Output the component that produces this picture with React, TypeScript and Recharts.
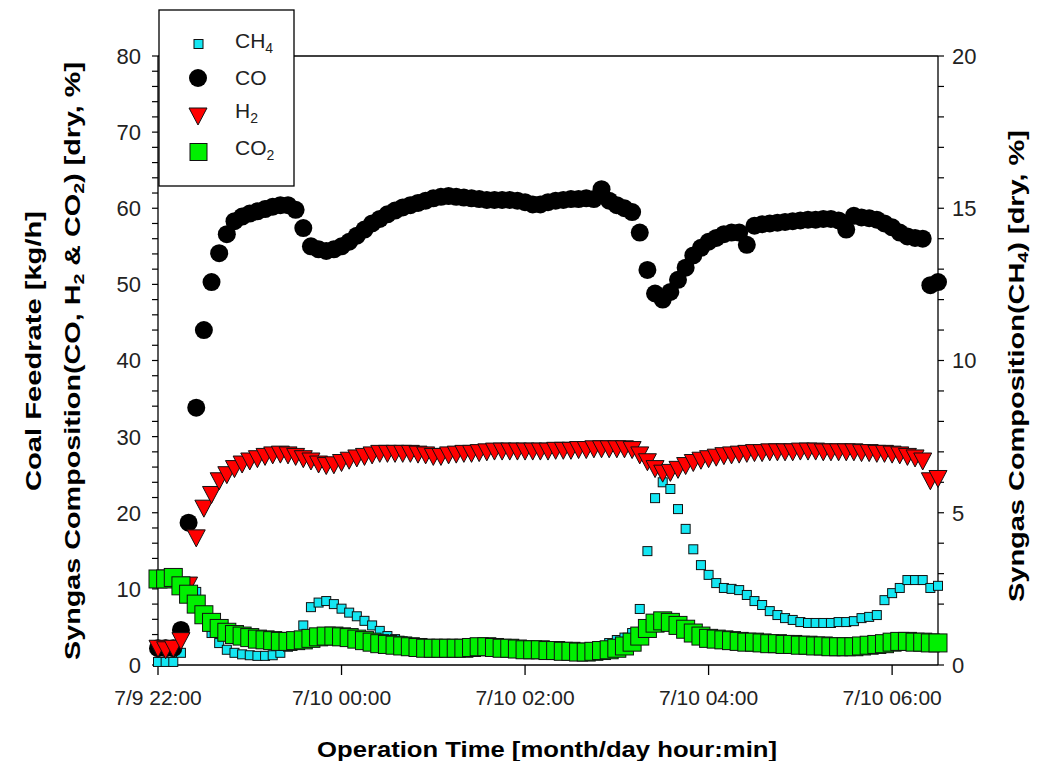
import React from 'react';
import { ScatterChart, Scatter, XAxis, YAxis, ReferenceLine } from 'recharts';

const FONT = '"Liberation Sans", Arial, Helvetica, sans-serif';

// minutes after 7/9 22:00, sampled every 5 min
const timeMin = [
  0, 5, 10, 15, 20, 25, 30, 35, 40, 45, 50, 55, 60, 65, 70, 75, 80, 85, 90, 95,
  100, 105, 110, 115, 120, 125, 130, 135, 140, 145, 150, 155, 160, 165, 170, 175, 180, 185, 190, 195,
  200, 205, 210, 215, 220, 225, 230, 235, 240, 245, 250, 255, 260, 265, 270, 275, 280, 285, 290, 295,
  300, 305, 310, 315, 320, 325, 330, 335, 340, 345, 350, 355, 360, 365, 370, 375, 380, 385, 390, 395,
  400, 405, 410, 415, 420, 425, 430, 435, 440, 445, 450, 455, 460, 465, 470, 475, 480, 485, 490, 495,
  500, 505, 510,
];

const xTickValues = [0, 120, 240, 360, 480];
const xTickLabels = ['7/9 22:00', '7/10 00:00', '7/10 02:00', '7/10 04:00', '7/10 06:00'];
const leftTicks = [0, 2, 4, 6, 8, 10, 12, 14, 16, 18, 20, 22, 24, 26, 28, 30, 32, 34, 36, 38, 40, 42, 44, 46, 48, 50, 52, 54, 56, 58, 60, 62, 64, 66, 68, 70, 72, 74, 76, 78, 80];
const leftLabels = [0, 10, 20, 30, 40, 50, 60, 70, 80];
const rightTicks = [0, 1, 2, 3, 4, 5, 6, 7, 8, 9, 10, 11, 12, 13, 14, 15, 16, 17, 18, 19, 20];
const rightLabels = [0, 5, 10, 15, 20];

// CH4 [dry, %] (right axis)
const ch4 = [
  0.1, 0.1, 0.1, 0.4, 2.6, 2.4, 1.6, 1.05, 0.72, 0.5, 0.4, 0.35, 0.32, 0.3, 0.3, 0.32, 0.4, 0.6, 0.9, 1.3,
  1.9, 2.05, 2.1, 2.0, 1.85, 1.72, 1.6, 1.45, 1.3, 1.12, 0.95, 0.85, 0.78, 0.72, 0.68, 0.65, 0.62, 0.6, 0.6, 0.6,
  0.62, 0.65, 0.65, 0.62, 0.6, 0.58, 0.56, 0.55, 0.54, 0.52, 0.5, 0.5, 0.5, 0.48, 0.48, 0.48, 0.5, 0.55, 0.62, 0.72,
  0.82, 0.9, 1.05, 1.84, 3.74, 5.48, 6.0, 5.78, 5.12, 4.47, 3.8, 3.28, 2.96, 2.69, 2.53, 2.5, 2.46, 2.3, 2.1, 1.97,
  1.77, 1.64, 1.54, 1.48, 1.41, 1.38, 1.38, 1.38, 1.38, 1.41, 1.41, 1.44, 1.54, 1.58, 1.64, 2.13, 2.36, 2.53, 2.79, 2.79,
  2.79, 2.53, 2.6,
];

// CO [dry, %]
const co = [
  2.2, 2.2, 2.2, 4.6, 18.7, 33.8, 44.0, 50.3, 54.1, 56.6, 58.3, 58.9, 59.3, 59.6, 59.9, 60.2, 60.4, 60.4, 59.8, 57.4,
  55.0, 54.6, 54.4, 54.6, 55.0, 55.6, 56.4, 57.2, 58.0, 58.6, 59.2, 59.7, 60.1, 60.4, 60.7, 61.0, 61.3, 61.5, 61.6, 61.5,
  61.4, 61.3, 61.2, 61.1, 61.1, 61.1, 61.1, 61.0, 60.8, 60.5, 60.5, 60.8, 61.0, 61.1, 61.2, 61.2, 61.3, 61.2, 62.5, 61.0,
  60.4, 60.0, 59.5, 56.8, 51.9, 48.8, 48.0, 49.0, 50.6, 52.2, 53.8, 54.8, 55.6, 56.1, 56.6, 56.8, 56.8, 55.2, 57.7, 57.9,
  58.0, 58.1, 58.2, 58.3, 58.4, 58.5, 58.5, 58.6, 58.6, 58.4, 57.2, 59.0, 58.8, 58.7, 58.5, 58.0, 57.5, 56.8, 56.3, 56.1,
  56.0, 49.9, 50.3,
];

// H2 [dry, %]
const h2 = [
  2.2, 2.0, 2.2, 3.2, 10.5, 16.7, 20.6, 22.4, 24.2, 25.0, 25.8, 26.4, 26.8, 27.1, 27.4, 27.6, 27.7, 27.6, 27.4, 27.1,
  26.8, 26.4, 26.2, 26.3, 26.6, 26.9, 27.2, 27.4, 27.6, 27.8, 27.8, 27.8, 27.8, 27.8, 27.7, 27.6, 27.4, 27.4, 27.6, 27.7,
  27.8, 27.8, 27.9, 28.0, 28.1, 28.1, 28.1, 28.1, 28.1, 28.1, 28.1, 28.1, 28.2, 28.2, 28.2, 28.3, 28.3, 28.4, 28.4, 28.4,
  28.4, 28.4, 28.3, 27.6, 26.7, 25.8, 25.2, 25.3, 25.7, 26.2, 26.6, 26.9, 27.1, 27.3, 27.5, 27.6, 27.7, 27.8, 27.9, 27.9,
  28.0, 28.0, 28.0, 28.0, 28.1, 28.1, 28.1, 28.0, 28.0, 28.0, 28.0, 28.0, 27.9, 27.9, 27.8, 27.8, 27.7, 27.6, 27.4, 27.2,
  26.8, 24.2, 24.5,
];

// CO2 [dry, %]
const co2 = [
  11.3, 11.3, 11.5, 10.4, 9.3, 8.0, 6.6, 5.6, 4.8, 4.3, 4.0, 3.8, 3.6, 3.4, 3.3, 3.2, 3.1, 3.1, 3.2, 3.3,
  3.5, 3.7, 3.8, 3.8, 3.7, 3.6, 3.4, 3.2, 3.0, 2.8, 2.7, 2.6, 2.5, 2.4, 2.3, 2.2, 2.2, 2.2, 2.2, 2.2,
  2.2, 2.3, 2.4, 2.4, 2.3, 2.2, 2.2, 2.1, 2.0, 2.0, 2.0, 1.9, 1.9, 1.8, 1.8, 1.7, 1.7, 1.8, 1.9, 2.0,
  2.2, 2.5, 3.0, 3.8, 4.8, 5.5, 5.8, 5.6, 5.2, 4.7, 4.2, 3.8, 3.5, 3.4, 3.3, 3.2, 3.1, 3.0, 3.0, 2.9,
  2.8, 2.8, 2.7, 2.7, 2.6, 2.6, 2.5, 2.5, 2.4, 2.4, 2.4, 2.4, 2.5, 2.6, 2.7, 2.8, 3.0, 3.1, 3.1, 3.0,
  3.0, 2.9, 2.9,
];

const toPoints = (vals: number[]) => vals.map((v, i) => ({ t: timeMin[i], v }));
const ch4Data = toPoints(ch4);
const coData = toPoints(co);
const h2Data = toPoints(h2);
const co2Data = toPoints(co2);

const CH4_FILL = '#14e6f2';
const CO_FILL = '#000000';
const H2_FILL = '#ff0000';
const CO2_FILL = '#00f000';

const SmallSquare = (p: any) => (
  <rect x={p.cx - 4.5} y={p.cy - 4.5} width={9} height={9} fill={CH4_FILL} stroke="#111" strokeWidth={1} />
);
const Circle = (p: any) => <circle cx={p.cx} cy={p.cy} r={9} fill={CO_FILL} />;
const Triangle = (p: any) => (
  <polygon
    points={`${p.cx - 9},${p.cy - 8} ${p.cx + 9},${p.cy - 8} ${p.cx},${p.cy + 9}`}
    fill={H2_FILL}
    stroke="#111"
    strokeWidth={1}
  />
);
const BigSquare = (p: any) => (
  <rect x={p.cx - 9} y={p.cy - 9} width={18} height={18} fill={CO2_FILL} stroke="#111" strokeWidth={1} />
);

const LeftTick = (props: any) => {
  const { x, y, payload } = props;
  if (!leftLabels.includes(payload.value)) return <g />;
  return (
    <text x={x} y={y} dy="0.36em" textAnchor="end" fontSize={22} fontFamily={FONT} fill="#222">
      {payload.value}
    </text>
  );
};

const RightTick = (props: any) => {
  const { x, y, payload } = props;
  if (!rightLabels.includes(payload.value)) return <g />;
  return (
    <text x={x} y={y} dy="0.36em" textAnchor="start" fontSize={22} fontFamily={FONT} fill="#222">
      {payload.value}
    </text>
  );
};

const XTick = (props: any) => {
  const { x, y, payload } = props;
  const idx = xTickValues.indexOf(payload.value);
  return (
    <text x={x} y={y} dy="0.71em" textAnchor="middle" fontSize={21} fontFamily={FONT} fill="#222">
      {idx >= 0 ? xTickLabels[idx] : ''}
    </text>
  );
};

const W = 1031;
const H = 753;

export default function App() {
  return (
    <div style={{ position: 'relative', width: W, height: H }}>
      <ScatterChart width={W} height={H} margin={{ top: 48, right: 41, bottom: 46, left: 90 }}>
        <XAxis
          type="number"
          dataKey="t"
          domain={[0, 510]}
          ticks={xTickValues}
          interval={0}
          tick={<XTick />}
          tickSize={10}
          tickMargin={15}
          height={50}
          stroke="#000"
          axisLine={{ stroke: '#000', strokeWidth: 1.3 }}
          tickLine={{ stroke: '#000', strokeWidth: 1.3 }}
        />
        <YAxis
          yAxisId="L"
          type="number"
          dataKey="v"
          orientation="left"
          domain={[0, 80]}
          ticks={leftTicks}
          interval={0}
          tick={<LeftTick />}
          tickSize={6}
          tickMargin={11}
          width={60}
          axisLine={{ stroke: '#000', strokeWidth: 1.3 }}
          tickLine={{ stroke: '#000', strokeWidth: 1.2 }}
        />
        <YAxis
          yAxisId="R"
          type="number"
          dataKey="v"
          orientation="right"
          domain={[0, 20]}
          ticks={rightTicks}
          interval={0}
          tick={<RightTick />}
          tickSize={6}
          tickMargin={8}
          width={60}
          axisLine={{ stroke: '#000', strokeWidth: 1.3 }}
          tickLine={{ stroke: '#000', strokeWidth: 1.2 }}
        />
        <ReferenceLine yAxisId="L" y={80} stroke="#000" strokeWidth={1.3} />
        <Scatter name="CH4" data={ch4Data} yAxisId="R" shape={SmallSquare} isAnimationActive={false} />
        <Scatter name="CO" data={coData} yAxisId="L" shape={Circle} isAnimationActive={false} />
        <Scatter name="H2" data={h2Data} yAxisId="L" shape={Triangle} isAnimationActive={false} />
        <Scatter name="CO2" data={co2Data} yAxisId="L" shape={BigSquare} isAnimationActive={false} />
      </ScatterChart>
      <svg
        width={W}
        height={H}
        style={{ position: 'absolute', left: 0, top: 0, pointerEvents: 'none', overflow: 'visible' }}
        fontFamily={FONT}
      >
        {/* Legend */}
        <rect x={151} y={2} width={135} height={176} fill="#fff" stroke="#000" strokeWidth={1.3} />
        <rect x={186} y={31.5} width={9} height={9} fill={CH4_FILL} stroke="#111" strokeWidth={1} />
        <circle cx={190} cy={70} r={9} fill={CO_FILL} />
        <polygon points="181,100 199,100 190,117" fill={H2_FILL} stroke="#111" strokeWidth={1} />
        <rect x={182} y={135.5} width={17} height={17} fill={CO2_FILL} stroke="#111" strokeWidth={1} />
        <text x={227} y={40} fontSize={21} fill="#222">
          CH<tspan fontSize={14} dy={5}>4</tspan>
        </text>
        <text x={227} y={77} fontSize={21} fill="#222">CO</text>
        <text x={227} y={110} fontSize={21} fill="#222">
          H<tspan fontSize={14} dy={5}>2</tspan>
        </text>
        <text x={227} y={147} fontSize={21} fill="#222">
          CO<tspan fontSize={14} dy={5}>2</tspan>
        </text>

        {/* X axis title */}
        <text
          x={539}
          y={749}
          textAnchor="middle"
          fontSize={22}
          fontWeight="bold"
          fill="#000"
          textLength={460}
          lengthAdjust="spacingAndGlyphs"
        >
          Operation Time [month/day hour:min]
        </text>

        {/* Left titles */}
        <text
          transform="translate(25,343) rotate(-90)"
          textAnchor="middle"
          dominantBaseline="central"
          fontSize={22}
          fontWeight="bold"
          fill="#000"
          textLength={280}
          lengthAdjust="spacingAndGlyphs"
        >
          Coal Feedrate [kg/h]
        </text>
        <text
          transform="translate(64,353) rotate(-90)"
          textAnchor="middle"
          dominantBaseline="central"
          fontSize={22}
          fontWeight="bold"
          fill="#000"
          textLength={598}
          lengthAdjust="spacingAndGlyphs"
        >
          Syngas Composition(CO, H<tspan fontSize={15} dy={6}>2</tspan>
          <tspan dy={-6}> &amp; CO</tspan>
          <tspan fontSize={15} dy={6}>2</tspan>
          <tspan dy={-6}>) [dry, %]</tspan>
        </text>

        {/* Right title */}
        <text
          transform="translate(1008,358) rotate(-90)"
          textAnchor="middle"
          dominantBaseline="central"
          fontSize={22}
          fontWeight="bold"
          fill="#000"
          textLength={472}
          lengthAdjust="spacingAndGlyphs"
        >
          Syngas Composition(CH<tspan fontSize={15} dy={6}>4</tspan>
          <tspan dy={-6}>) [dry, %]</tspan>
        </text>
      </svg>
    </div>
  );
}
